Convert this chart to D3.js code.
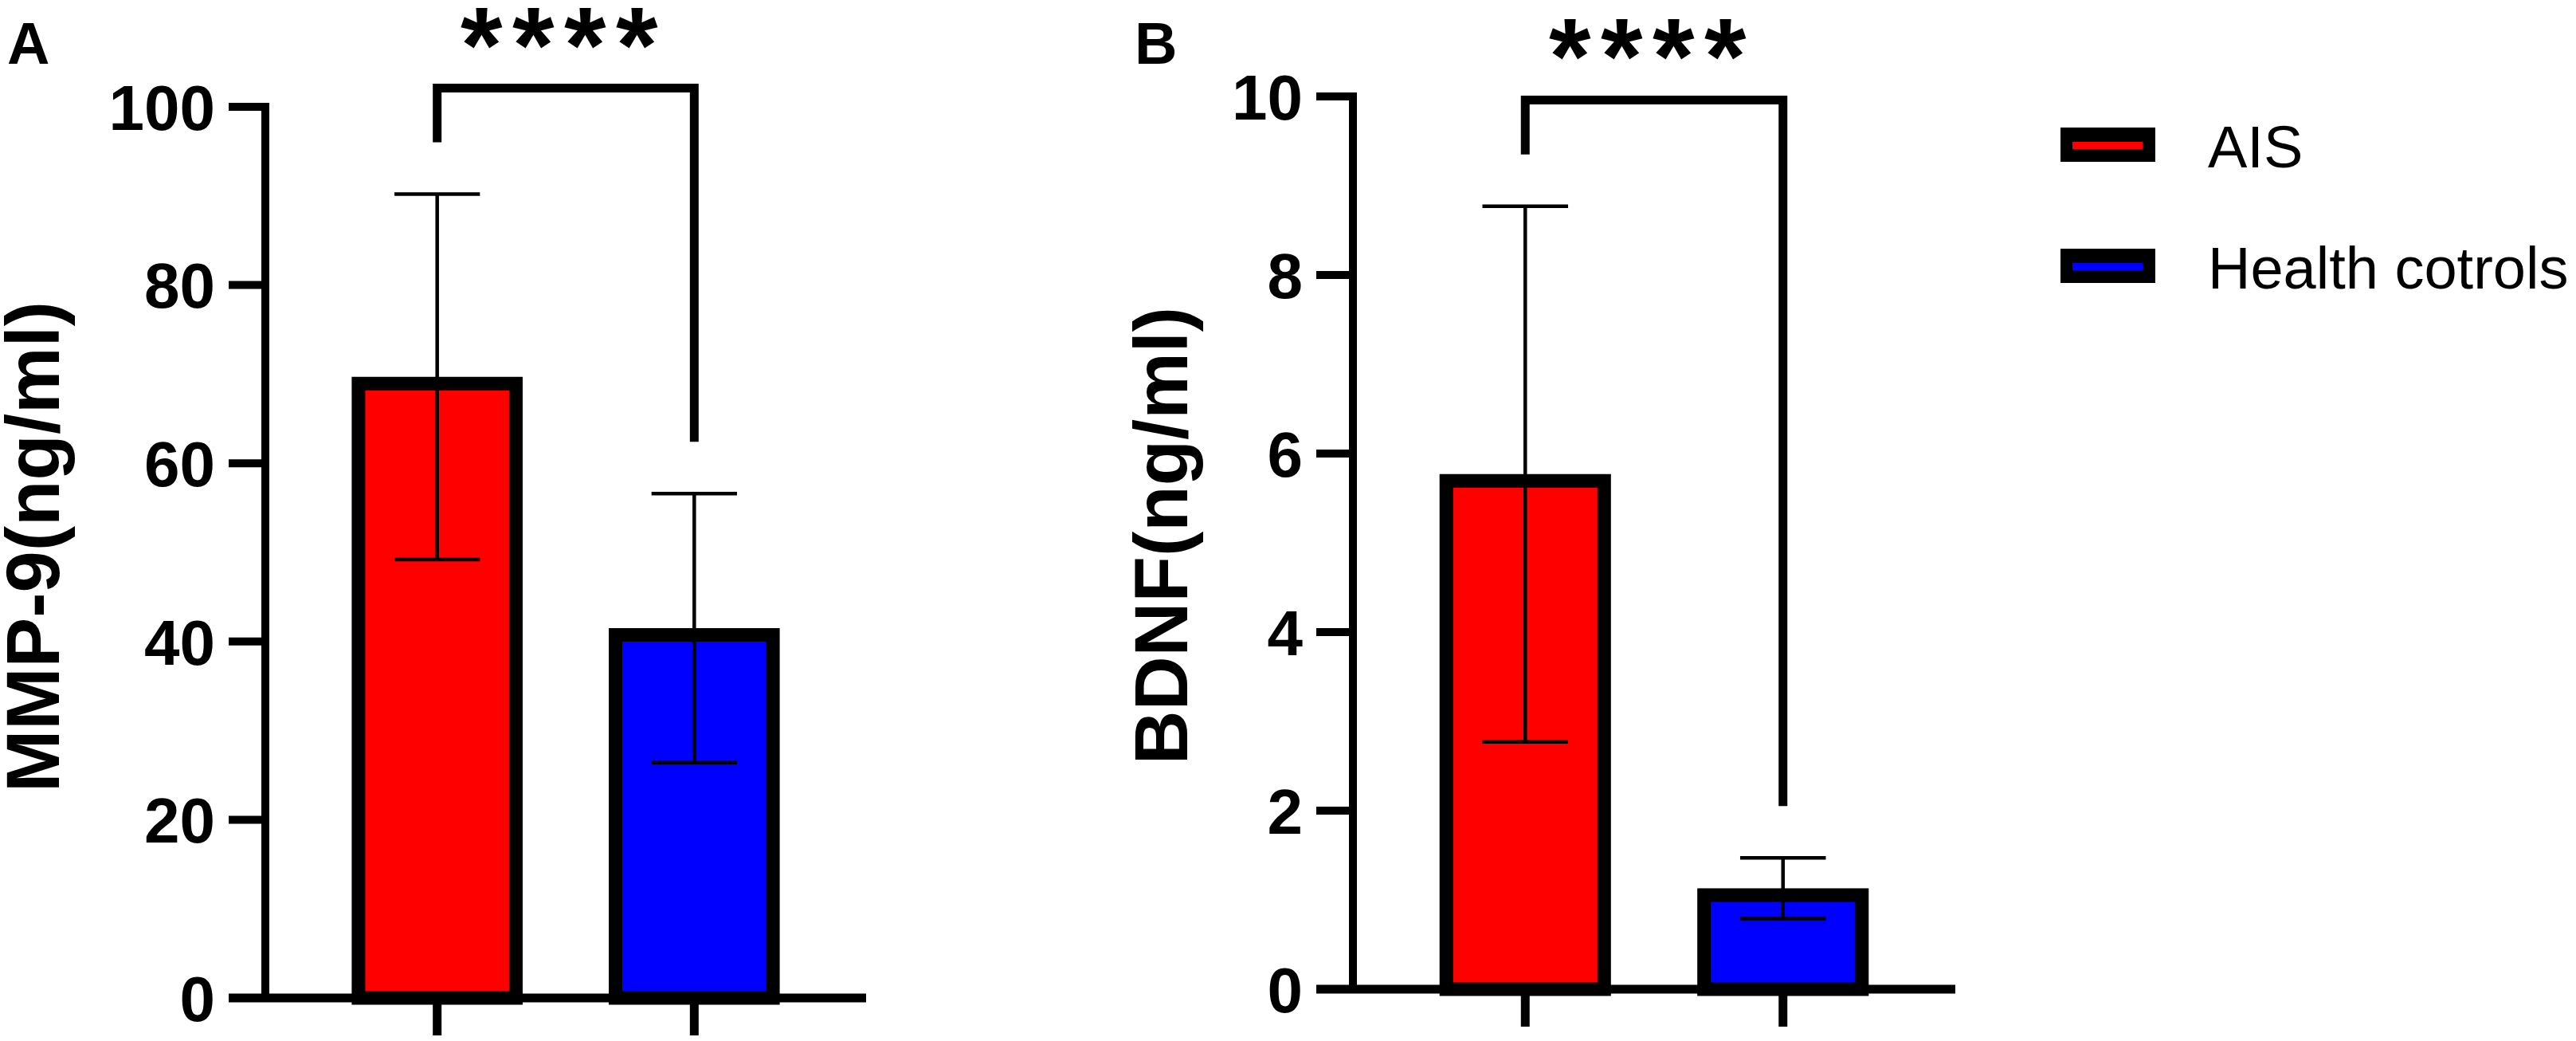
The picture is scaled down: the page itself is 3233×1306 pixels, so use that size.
<!DOCTYPE html>
<html>
<head>
<meta charset="utf-8">
<script src="https://cdn.jsdelivr.net/npm/d3@7"></script>
<style>
  body { margin: 0; background: #fff; }
  text { font-family: "Liberation Sans", Arial, sans-serif; }
</style>
</head>
<body>
<script>
// data (mean +/- SD)
var groups = ["AIS", "Health cotrols"];
var groupColors = ["#ff0000", "#0000ff"];

var mmpMean = [69.7, 41.5];
var mmpSD = [20.5, 15.1];
var mmpTicks = [0, 20, 40, 60, 80, 100];

var bdnfMean = [5.77, 1.13];
var bdnfSD = [3.0, 0.34];
var bdnfTicks = [0, 2, 4, 6, 8, 10];

var panelLetters = ["A", "B"];
var axisTitles = ["MMP-9(ng/ml)", "BDNF(ng/ml)"];
var signifText = ["****", "****"];
var bracketLevel = [102.1, 9.96];

var totalWidth = 3233;
var totalHeight = 1306;

var svg = d3.select("body")
    .append("svg")
    .attr("width", totalWidth)
    .attr("height", totalHeight);

svg.append("rect")
    .attr("width", totalWidth)
    .attr("height", totalHeight)
    .attr("fill", "#fff");

var barStroke = 17;

function drawPanel(p) {
    var g = svg.append("g");

    var yScale = d3.scaleLinear().domain([0, p.max]).range([p.y0, p.y1]);
    var xScale = d3.scaleBand().domain(groups).range([p.x0, p.x1])
        .paddingInner(0.335).paddingOuter(0.336);

    var rows = groups.map(function(d, i) {
        return {name: d, mean: p.mean[i], sd: p.sd[i], color: groupColors[i]};
    });

    // bars
    g.selectAll("rect.bar")
        .data(rows)
        .enter()
        .append("rect")
        .attr("class", "bar")
        .attr("x", function(d) { return xScale(d.name) + barStroke / 2; })
        .attr("width", xScale.bandwidth() - barStroke)
        .attr("y", function(d) { return yScale(d.mean) + barStroke / 2; })
        .attr("height", function(d) { return yScale(0) - yScale(d.mean) - barStroke / 2; })
        .attr("fill", function(d) { return d.color; })
        .attr("stroke", "#000")
        .attr("stroke-width", barStroke);

    // error bars
    var cap = xScale.bandwidth() * 0.25;
    var err = g.selectAll("g.err")
        .data(rows)
        .enter()
        .append("g")
        .attr("class", "err")
        .attr("stroke", "#000")
        .attr("stroke-width", 4.5);
    err.append("line")
        .attr("x1", function(d) { return xScale(d.name) + xScale.bandwidth() / 2; })
        .attr("x2", function(d) { return xScale(d.name) + xScale.bandwidth() / 2; })
        .attr("y1", function(d) { return yScale(d.mean + d.sd); })
        .attr("y2", function(d) { return yScale(d.mean - d.sd); });
    [1, -1].forEach(function(s) {
        err.append("line")
            .attr("x1", function(d) { return xScale(d.name) + xScale.bandwidth() / 2 - cap; })
            .attr("x2", function(d) { return xScale(d.name) + xScale.bandwidth() / 2 + cap; })
            .attr("y1", function(d) { return yScale(d.mean + s * d.sd); })
            .attr("y2", function(d) { return yScale(d.mean + s * d.sd); });
    });

    // y axis
    var yAxisGroup = g.append("g")
        .attr("transform", "translate(" + p.x0 + ",0)");
    var yAxis = d3.axisLeft(yScale)
        .tickValues(p.ticks)
        .tickSize(46)
        .tickSizeOuter(0)
        .tickPadding(17)
        .offset(0);
    yAxis(yAxisGroup);
    yAxisGroup.select(".domain")
        .attr("stroke", "#000")
        .attr("stroke-width", 10)
        .attr("stroke-linecap", "square");
    yAxisGroup.selectAll(".tick line")
        .attr("stroke", "#000")
        .attr("stroke-width", 10);
    yAxisGroup.selectAll(".tick text")
        .attr("dy", "0.36em")
        .attr("fill", "#000")
        .style("font-size", "80px")
        .style("font-weight", "bold")
        .style("font-family", "'Liberation Sans', Arial, sans-serif");

    // x axis (extends left to the end of the y ticks)
    var xAxisGroup = g.append("g")
        .attr("transform", "translate(0," + p.y0 + ")");
    var xAxis = d3.axisBottom(xScale)
        .tickSize(47)
        .tickSizeOuter(0)
        .tickFormat("")
        .offset(0);
    xAxis(xAxisGroup);
    xAxisGroup.select(".domain")
        .attr("d", "M" + (p.x0 - 46) + ",0H" + p.x1)
        .attr("stroke", "#000")
        .attr("stroke-width", 11);
    xAxisGroup.selectAll(".tick line")
        .attr("stroke", "#000")
        .attr("stroke-width", 11);

    // significance bracket
    var xa = xScale(groups[0]) + xScale.bandwidth() / 2;
    var xb = xScale(groups[1]) + xScale.bandwidth() / 2;
    var yTop = yScale(p.bracket);
    var leg0 = yScale(rows[0].mean + rows[0].sd) - 65;
    var leg1 = yScale(rows[1].mean + rows[1].sd) - 65;
    g.append("path")
        .attr("d", "M" + xa + "," + leg0 + "V" + yTop + "H" + xb + "V" + leg1)
        .attr("fill", "none")
        .attr("stroke", "#000")
        .attr("stroke-width", 11)
        .attr("stroke-linejoin", "miter");
    g.append("text")
        .attr("x", (xa + xb) / 2 - 2)
        .attr("y", yTop - 8)
        .attr("text-anchor", "middle")
        .style("font-size", "135px")
        .style("font-weight", "bold")
        .style("letter-spacing", "12.5px")
        .text(p.signif);

    // axis title
    g.append("text")
        .attr("transform", "translate(" + p.titleX + "," + p.titleY + ") rotate(-90)")
        .attr("text-anchor", "middle")
        .style("font-size", "94px")
        .style("font-weight", "bold")
        .text(p.title);

    // panel letter
    g.append("text")
        .attr("x", p.letterX)
        .attr("y", 80)
        .style("font-size", "74px")
        .style("font-weight", "bold")
        .text(p.letter);
}

drawPanel({
    mean: mmpMean, sd: mmpSD, ticks: mmpTicks, max: 100,
    x0: 333, x1: 1087, y0: 1252, y1: 134,
    bracket: bracketLevel[0], signif: signifText[0],
    title: axisTitles[0], titleX: 74, titleY: 686,
    letter: panelLetters[0], letterX: 9
});

drawPanel({
    mean: bdnfMean, sd: bdnfSD, ticks: bdnfTicks, max: 10,
    x0: 1698, x1: 2454, y0: 1241, y1: 121,
    bracket: bracketLevel[1], signif: signifText[1],
    title: axisTitles[1], titleX: 1490, titleY: 672,
    letter: panelLetters[1], letterX: 1424
});

// legend
var legend = svg.append("g")
    .selectAll("g")
    .data(groups)
    .enter()
    .append("g")
    .attr("transform", function(d, i) { return "translate(2586," + (160 + i * 152) + ")"; });

legend.append("rect")
    .attr("width", 119)
    .attr("height", 43)
    .attr("fill", "#000");
legend.append("rect")
    .attr("x", 15)
    .attr("y", 18)
    .attr("width", 88)
    .attr("height", 9)
    .attr("fill", function(d, i) { return groupColors[i]; });
legend.append("text")
    .attr("x", 185)
    .attr("y", 50)
    .style("font-size", "74px")
    .text(function(d) { return d; });
</script>
</body>
</html>
